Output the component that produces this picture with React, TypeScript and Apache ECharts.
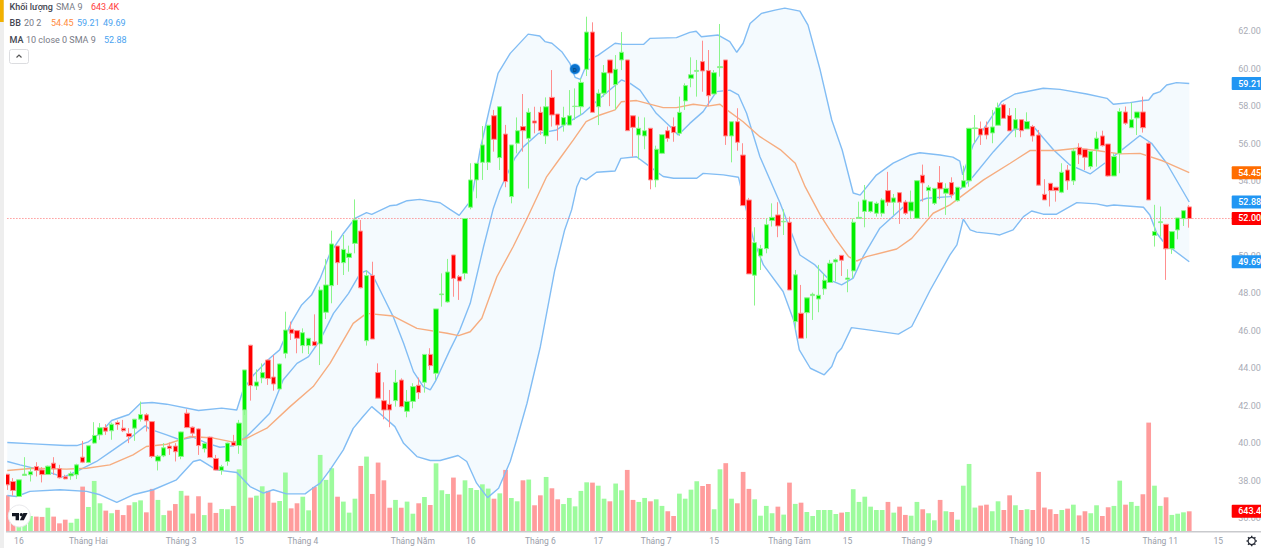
import React, { useEffect, useRef } from "react";
import * as echarts from "echarts";

// [open, close, low, high]
const candles = [
[38.34,37.77,37.5,38.34],[37.95,37.47,37.19,38.13],[37.15,38.04,37.15,38.04],[38.27,38.34,38.27,39.25],[38.31,38.47,37.95,38.72],
[38.75,38.54,38.22,38.98],[38.57,38.32,37.9,38.72],[38.32,38.77,38.3,38.8],[38.93,38.63,38.31,39.25],[38.63,38.15,38.11,38.84],
[38.2,38.09,38.07,38.31],[38.25,38.36,38.04,38.48],[38.31,38.84,38.08,38.9],[39.25,38.98,38.93,40.12],[38.97,39.86,38.93,39.86],
[40,40.41,39.96,41.12],[40.44,40.82,40.18,41.07],[40.83,40.64,40.44,41.01],[40.66,41.01,40.18,41.1],[41.1,40.99,40.71,41.21],
[40.8,40.66,40.59,41.24],[40.51,40.35,40,40.8],[40.8,41.28,40.12,41.28],[41.28,41.53,41.15,42.22],[41.51,41.19,40.62,41.6],
[41.15,39.29,39.2,41.15],[39.04,39.3,38.54,39.37],[39.32,39.75,39.25,40],[39.84,39.71,39.37,40.03],[39.84,39.54,39.02,40],
[39.29,40.6,39.14,40.62],[41.6,40.83,40.8,41.81],[40.85,40.53,40.27,40.89],[40.76,39.87,39.37,40.8],[39.7,39.98,39.5,40.03],
[40.32,39.23,39.2,40.35],[39.18,38.56,38.54,39.37],[38.54,38.74,38.31,38.84],[39.02,40,38.79,40.03],[40.05,39.87,39.82,40.44],
[39.87,41.07,39.43,41.24],[41.77,43.91,41.5,43.91],[45.23,43.07,42.27,45.25],[43.05,43.27,42.84,43.94],[43.48,43.77,43.2,44.26],
[44.44,43.45,43.11,44.48],[43.53,43.16,42.8,44.71],[42.89,44.23,42.87,44.25],[44.8,46.04,44.53,47.02],[46.08,45.87,45.51,46.49],
[46.01,45.6,44.8,46.04],[45.21,45.9,44.8,46.13],[45.21,45.6,44.76,45.6],[45.42,45.21,45.21,46.88],[45.3,48.18,44.17,48.36],
[46.99,48.45,46.63,49.84],[48.41,50.64,47.47,51.35],[50.53,49.64,48.45,50.53],[49.64,50.35,48.98,51.12],[49.92,50.14,49.16,50.55],
[50.67,51.92,50.14,53.02],[51.33,48.3,48.27,51.92],[45.47,48.95,45.21,49.25],[48.96,45.56,45.56,49.69],[43.77,42.4,42.4,44.26],
[42.27,41.77,41.27,43.25],[42.07,41.77,40.85,42.84],[42.27,43.25,41.95,43.91],[43.37,41.95,41.91,43.46],[41.7,42.23,41.38,42.84],
[42.23,43.02,41.86,43.2],[43.09,42.7,42.36,43.5],[43.25,44.74,42.7,44.74],[44.74,44.14,43.91,45.07],[43.73,47.17,43.37,47.17],
[47.93,47.97,47.29,49.07],[47.54,49.14,47.5,49.84],[50.05,48.8,47.82,50.05],[48.89,48.66,47.65,48.98],[49.07,52,48.75,52],
[52.6,54.06,52.49,54.95],[54.06,54.95,53.08,54.95],[55,55.93,54.06,56.94],[55,56.98,54.59,57],[57.49,56.23,55.57,57.8],
[55.25,57.97,54.59,57.97],[56.51,53.97,53.67,57],[53.17,55.93,52.81,55.93],[56.02,56.69,55.48,57.4],[56.91,56.69,55.57,58.65],
[56.28,57.67,53.6,57.89],[57.21,57.1,56.55,57.97],[57.67,56.69,56.46,57.97],[56.41,57.97,55.98,58.47],[58.47,57.53,56.91,59.93],
[57.58,56.99,56.16,57.58],[56.99,57.39,56.64,57.97],[56.99,57.49,56.99,58.86],[57.98,58,57.26,58.95],[57.97,59.27,57.53,59.49],
[59.97,61.96,59.61,62.78],[61.96,57.67,57.67,62.48],[57.97,58.69,56.99,58.9],[58.69,59.79,58.5,60.2],[60.47,59.77,58,60.47],
[59.15,59.97,57.8,60.73],[60.47,60.88,59.93,61.96],[60.47,56.69,56.69,60.47],[57.49,56.87,55.3,57.49],[56.46,56.82,55.16,57.44],
[56.41,56.69,55.7,57.4],[56.82,54.06,53.56,56.82],[54.06,55.7,53.67,55.89],[55.48,56.48,55.44,56.48],[56.69,56.28,56.1,56.91],
[56.91,56.59,56.1,57.4],[56.55,57.67,56.41,58.51],[58.28,59.1,57.8,59.22],[59.49,59.68,59.01,60.61],[59.86,59.91,58.51,60.47],
[60.38,59.88,58.77,61.5],[59.9,58.56,58,61],[58.65,59.79,58.65,59.93],[60.06,60.11,59.58,62.39],[60.47,56.41,55.93,60.47],
[56.41,57.17,55,57.17],[57.17,56.07,55.62,57.89],[55.39,52.69,52.69,56.02],[52.99,49.04,49.04,53.1],[48.97,50.71,47.35,51.53],
[50,50.39,49.25,50.59],[50.39,51.67,50.14,52.01],[51.89,52.06,51.57,52.81],[52.19,51.6,51,52.87],[51.82,51.85,51.12,52.49],
[51.8,48.18,48.18,52.1],[46.49,48.99,46.05,49.25],[46.94,45.6,45.6,48.45],[46.97,47.76,45.6,47.76],[47.88,47.95,46.58,48.04],
[47.7,47.9,46.99,49.52],[48.24,48.7,47.92,49.07],[48.58,49.61,48.58,49.79],[49.68,49.79,48.63,49.87],[50.03,49.77,48.93,50.03],
[48.75,48.82,48.06,49.29],[49.2,51.8,48.81,52],[52.01,52.06,52.01,52.9],[52.38,52.99,51.53,53.79],[52.38,52.9,52.31,52.9],
[52.28,52.81,52.1,52.9],[52.28,52.99,52.1,53.08],[53.49,52.87,52.67,54.49],[52.87,53.1,52.19,53.31],[53.38,52.87,51.71,53.38],
[52.88,52.28,52.19,52.99],[52.4,52.88,52,53.49],[52.01,54.02,52.01,54.02],[54.31,53.9,52.9,54.88],[53.49,53.67,52.1,53.79],
[52.81,53.61,52.72,53.61],[53.92,53.58,53.03,54.8],[53.35,53.61,52.19,53.88],[53.92,53.26,53.08,54.2],[52.95,53.67,52.9,53.67],
[53.67,54.02,53.67,54.82],[54.01,56.82,53.7,56.82],[56.8,56.84,56.02,57.53],[56.8,56.46,55.93,57.18],[56.87,56.46,56.23,57.18],
[56.57,56.89,56.02,57.8],[56.98,57.92,56.98,58.19],[58.08,57.35,57.35,58.15],[57.5,56.68,56.68,57.9],[56.78,57.28,56.34,57.9],
[57.28,56.69,56.34,57.28],[56.78,57.18,56.78,57.67],[56.91,56.41,56.11,57],[56.46,53.78,53.75,56.73],[53.29,52.99,52.99,54.1],
[53.88,53.49,52.64,53.88],[53.67,53.49,52.9,53.67],[53.4,54.47,53.35,54.95],[54.59,54.01,53.53,54.86],[54.01,55.61,53.79,55.75],
[55.8,55.4,54.91,56.02],[55.7,55.27,54.59,55.7],[54.77,55.59,54.63,55.59],[55.7,56.29,54.77,56.64],[56.41,55.89,55.84,56.69],
[55.98,54.27,54.24,55.98],[54.27,55.31,54.27,55.48],[55.48,57.71,54.42,57.89],[57.69,57.09,57,57.98],[56.85,57.28,56.85,58.19],
[57.37,57.69,56.46,57.69],[57.69,56.85,56.59,58.51],[56.02,52.99,52.99,56.07],[51.09,51.3,50.5,52.73],[51.78,51.82,51.03,52.64],
[51.69,50.38,48.72,51.69],[50.38,51.3,50.11,51.3],[51.39,52.03,50.89,52.03],[51.99,52.42,51.6,52.42],[52.62,52,51.51,52.71],
];

// thousands of shares
const volumes = [
1166,380,430,380,490,470,460,760,470,250,370,270,400,1450,785,1635,905,665,580,690,
520,840,940,1000,610,1375,1015,520,665,880,1310,1155,570,1135,520,925,590,720,710,820,
2015,3950,1090,1155,1460,1310,925,980,1910,740,905,1120,675,1440,2485,1670,2050,1120,960,600,
1055,2125,2430,1210,2235,1655,760,1015,760,960,565,905,1110,850,2210,1330,1210,1745,1190,1655,
1405,1340,1525,1385,1055,1230,1995,1080,970,1655,1680,840,1165,1765,1395,1035,880,1080,805,1310,
1590,1580,1480,1055,970,1550,1330,1995,1015,950,1080,970,1035,820,645,490,1220,1055,1350,1625,
1470,1535,710,2015,2215,1055,905,1930,1375,1035,500,820,580,795,535,1580,885,925,620,490,
685,685,685,555,600,620,1365,950,1120,795,685,685,950,600,795,525,500,950,710,580,
350,1015,645,620,370,1480,2190,765,830,860,645,970,685,1165,840,685,710,685,1930,765,
710,555,685,730,860,510,645,580,840,490,775,820,1645,860,950,820,1200,3540,1480,820,
1100,525,565,610,643.4,
];

const bbUpper = [
[0,40.03],[4.5,39.96],[10,39.87],[12,39.87],[14,40.07],[16,40.53],[18,41.21],[21,41.53],[23,42.13],[25,42.17],[27.5,42.08],[33,41.74],[37,41.87],[39.6,41.77],[40.7,42.84],[42.5,43.64],[45.3,44.53],[47,44.98],[49.1,46.49],[50.8,47.38],[52.5,47.91],[54,48.8],[55.7,50.14],[58,51.2],[60,52],[62,52.31],[62.9,52.22],[66,52.68],[67.2,52.72],[69,52.95],[71.2,53.02],[74.7,52.84],[76.4,52.49],[78,52.17],[79.6,52.81],[80.4,53.52],[81.6,55.66],[83.3,57.97],[84.7,59.75],[86.8,60.82],[89.9,61.85],[91.9,61.75],[92.8,61.45],[94,61.36],[95.7,60.91],[97.1,60.29],[98,59.54],[98.9,59.43],[100.3,60.47],[102,60.73],[104.9,61.36],[106.3,61.3],[109.8,61.3],[110.9,61.62],[115.5,61.66],[117.8,61.94],[118.9,62],[119.8,61.71],[122.7,61.8],[124.7,61.45],[125.9,60.88],[127,61.36],[128.2,62.42],[130.2,62.96],[132.5,63.13],[134.2,63.24],[136.8,63.08],[138.2,62.33],[140.3,59.93],[142.3,57.26],[144.1,55.66],[146,53.36],[147.2,53.25],[150,54.32],[152.9,54.96],[155.8,55.39],[157.5,55.51],[161,55.39],[163.2,55.28],[164.4,55.07],[164.9,54.33],[166.7,55.93],[170.5,57.71],[171.6,58.24],[173.9,58.65],[178.8,58.96],[181.7,58.9],[186.3,58.65],[189.8,58.42],[190.9,58.1],[193.8,58.19],[196.1,58.3],[197,58.33],[197.8,58.65],[199,58.78],[200.1,59.13],[201.8,59.26],[204,59.21],
];

const bbLower = [
[0,37.2],[1.6,37.15],[3.9,37.42],[9.1,37.51],[13.7,37.42],[16,37.24],[18.9,36.83],[21.7,37.24],[25.2,37.51],[29.2,38.04],[32.1,39.02],[33.3,39.11],[36.1,38.57],[39.6,38.43],[41.9,37.68],[44.2,37.33],[45.9,37.51],[48.2,37.29],[51.4,37.29],[53.1,37.68],[54,37.86],[55.7,38.57],[58,39.64],[59.7,40.79],[61.4,41.42],[62.9,41.95],[64.9,41.42],[66.9,40.88],[68.4,39.99],[70.7,39.28],[73,39.07],[74.7,39.07],[77.8,39.34],[79.3,39.02],[81,37.86],[82.9,37.09],[84.8,37.59],[86.8,39.02],[87.9,40.17],[89.7,42.13],[92,45.15],[94.5,49.25],[96.2,51.39],[97.4,52.46],[98.3,53.7],[99,54.18],[99.9,54.06],[101.7,54.47],[104.9,54.54],[105.9,55.21],[108.6,55.3],[110.9,54.77],[113.2,54.24],[115,54.15],[119,54.15],[120.1,54.41],[123.6,54.33],[126.2,54.2],[128.8,50.85],[130.5,49.52],[133.9,48.1],[135.7,46.58],[136.7,44.98],[138.6,44],[141,43.65],[142.3,44.09],[143.2,44.8],[144,45.07],[145.7,46.17],[148.6,46.05],[153.8,45.82],[156.1,46.23],[159.3,48.18],[162.7,50.06],[163.9,50.59],[165,51.96],[166.2,51.39],[167.3,51.27],[170.2,51.18],[171.3,51.12],[173.6,51.39],[175.4,52.1],[176.8,52.4],[178.8,52.23],[181.1,52.23],[184.6,52.85],[188,52.78],[189.8,52.67],[191,52.72],[196.1,52.6],[197.2,52.19],[198.4,51.21],[199.5,50.77],[200.9,50.41],[204,49.69],
];

const bbBasis = [
[0,38.54],[4.5,38.66],[10.2,38.61],[13.7,38.66],[17.7,38.84],[21.7,39.37],[24,39.82],[27.5,39.94],[31.5,40.35],[35.6,40.27],[39,40.05],[41.3,40.26],[44.8,40.8],[48.8,41.95],[52.8,43.02],[55.7,44.26],[59.7,46.4],[62,46.93],[66.6,46.79],[70.7,46.13],[75.9,45.87],[77.9,45.74],[79.9,45.95],[81.9,46.67],[84.5,48.89],[87.3,50.49],[89.7,52],[93.1,54.24],[95.4,55.22],[97.7,56.2],[99.9,57.17],[102.3,57.53],[104.9,57.8],[106,58.24],[108.6,58.3],[113.2,57.92],[115.5,57.92],[118.4,58.1],[120.9,58],[123,58.1],[124.2,57.8],[127,57.17],[129.9,56.37],[133.4,55.68],[136,54.95],[137.7,53.7],[140.3,52.19],[142.9,50.94],[145.2,49.96],[146.6,49.73],[148.3,49.96],[153.5,50.37],[156.1,50.94],[159.8,52.28],[162.7,52.73],[165,53.26],[168.5,54.06],[173.1,54.95],[176.5,55.63],[181.1,55.63],[184.6,55.75],[188,55.63],[192,55.45],[195.5,55.48],[199.5,55.07],[204,54.45],
];

const ma10 = [
[0,39.02],[2.2,38.84],[6.2,38.54],[9.7,38.18],[12.5,38.57],[15.4,39.02],[18.3,39.64],[21.2,40.27],[23.8,40.92],[24.6,40.75],[27.5,40.44],[29.8,40.18],[32.1,40.32],[34.4,40],[36.7,39.78],[39,39.86],[41.3,40.35],[45.3,41.59],[47.6,43.37],[50,44.26],[52,44.62],[54,45.51],[56.3,46.93],[58.9,48],[60.9,49.07],[62,49.21],[63.2,48.89],[64.9,47.82],[66.6,46.76],[68.4,45.33],[70.1,43.82],[71.8,43.02],[73,42.84],[74,43.37],[76.4,44.98],[78.1,46.04],[79.9,47.47],[82.2,50.49],[83.9,52.55],[85,53.52],[87.6,55.22],[89.1,55.84],[91.7,56.55],[94.8,56.73],[96.5,57.08],[99.4,57.62],[102.3,58.42],[106,59.4],[107.5,59.22],[109.2,58.86],[112,57.62],[114.4,56.91],[115.8,56.46],[117.8,57.08],[120.1,57.71],[122.4,58.78],[124.7,58.86],[126.2,58.6],[127.6,57.62],[129.9,55.3],[133.4,52.81],[136.8,50.05],[139.4,49.52],[141.9,48.72],[144,48.45],[146,48.81],[147.7,49.96],[150.6,51.48],[154.7,52.63],[158.7,53.08],[162.7,53.17],[165,53.7],[166.7,54.24],[170.2,55.57],[173.6,56.73],[177.1,56.91],[180.6,55.66],[183.4,54.86],[186.9,54.38],[189.4,54.95],[192,55.57],[195.5,56.43],[197.5,56.02],[200.1,54.95],[204,52.88],
];

const xTicks: [number, string][] = [
[2,"16"],[14,"Tháng Hai"],[30,"Tháng 3"],[40,"15"],[51,"Tháng 4"],[70,"Tháng Năm"],[80,"16"],[92,"Tháng 6"],[102,"17"],[112,"Tháng 7"],[122,"15"],[135,"Tháng Tám"],[145,"15"],[157,"Tháng 9"],[176,"Tháng 10"],[186,"15"],[199,"Tháng 11"],[209,"15"],
];

const lastClose = 52;
const priceTags: [number, string, string][] = [
[59.21,"59.21","#2196f3"],[54.45,"54.45","#ff6d00"],[52.88,"52.88","#2196f3"],[52,"52.00","#ff0000"],[49.69,"49.69","#2196f3"],
];
const volumeTags: [number, string, string][] = [[643.4,"643.4K","#ff0000"]];

const FONT = "Roboto, 'Liberation Sans', sans-serif";
const SLOTS = 212;
const GRID_LEFT = 4.4;
const GRID_W = 1228.3;
const xEnd = SLOTS - 0.5;

const legendRows = [
  { x: 9.5, y: 7, t: "Khối lượng", c: "#434651", w: 500 },
  { x: 56, y: 7, t: "SMA 9", c: "#787b86", w: 400 },
  { x: 91, y: 7, t: "643.4K", c: "#ff3b3b", w: 400 },
  { x: 9.5, y: 23, t: "BB", c: "#434651", w: 500 },
  { x: 24, y: 23, t: "20 2", c: "#787b86", w: 400 },
  { x: 51, y: 23, t: "54.45", c: "#ff8a3c", w: 400 },
  { x: 77, y: 23, t: "59.21", c: "#4aa3f0", w: 400 },
  { x: 103, y: 23, t: "49.69", c: "#4aa3f0", w: 400 },
  { x: 9.5, y: 40, t: "MA", c: "#434651", w: 500 },
  { x: 26, y: 40, t: "10 close 0 SMA 9", c: "#787b86", w: 400 },
  { x: 104, y: 40, t: "52.88", c: "#4aa3f0", w: 400 },
];

const gearTeeth = [0, 45, 90, 135, 180, 225, 270, 315];

function tagSeries(tags: [number, string, string][], xAxisIndex: number, yAxisIndex: number) {
  return {
    type: "custom",
    xAxisIndex,
    yAxisIndex,
    z: 9,
    silent: true,
    clip: false,
    data: tags.map((t) => [xEnd, t[0]]),
    renderItem: (p: any, api: any) => {
      const c = api.coord([api.value(0), api.value(1)]);
      const tag = tags[p.dataIndex];
      return {
        type: "group",
        children: [
          { type: "rect", shape: { x: c[0] - 1, y: c[1] - 6.5, width: 32, height: 13, r: 1 }, style: { fill: tag[2] } },
          { type: "text", x: c[0] + 5.5, y: c[1], style: { text: tag[1], fill: "#fff", fontSize: 9, fontWeight: 500, fontFamily: FONT, verticalAlign: "middle", align: "left" } },
        ],
      };
    },
  };
}

function lineSeries(data: number[][], color: string, z: number) {
  return {
    type: "line",
    xAxisIndex: 2,
    yAxisIndex: 0,
    data,
    symbol: "none",
    z,
    silent: true,
    lineStyle: { color, width: 1.4 },
  };
}

export default function App() {
  const ref = useRef<HTMLDivElement>(null);
  useEffect(() => {
    document.body.style.margin = "0";
    const chart = echarts.init(ref.current!, undefined, { renderer: "svg" });
    const labels = new Map(xTicks);
    const categories = Array.from({ length: SLOTS }, (_, i) => labels.get(i) ?? "");

    chart.setOption({
      animation: false,
      backgroundColor: "#ffffff",
      grid: [
        { left: GRID_LEFT, width: GRID_W, top: 0, height: 518, outerBoundsMode: "none" },
        { left: GRID_LEFT, width: GRID_W, top: 0, height: 531, outerBoundsMode: "none" },
      ],
      xAxis: [
        { type: "category", gridIndex: 0, data: categories, show: false },
        {
          type: "category",
          gridIndex: 1,
          data: categories,
          axisLine: { show: false },
          axisTick: { show: false },
          axisLabel: {
            interval: (i: number) => labels.has(i),
            color: "#9a9ea9",
            fontSize: 8.5,
            fontFamily: FONT,
            margin: 5.5,
            hideOverlap: false,
          },
          splitLine: { show: false },
        },
        { type: "value", gridIndex: 0, min: -0.5, max: xEnd, show: false },
        { type: "value", gridIndex: 1, min: -0.5, max: xEnd, show: false },
      ],
      yAxis: [
        {
          type: "value",
          gridIndex: 0,
          position: "right",
          min: 36,
          max: 63.672,
          interval: 2,
          axisLine: { show: false },
          axisTick: { show: false },
          splitLine: { show: false },
          axisLabel: {
            color: "#a9acb6",
            fontSize: 9,
            fontFamily: FONT,
            margin: 5.5,
            showMaxLabel: false,
            formatter: (v: number) => v.toFixed(2),
          },
        },
        { type: "value", gridIndex: 1, min: 0, max: 17342, show: false },
      ],
      series: [
        {
          type: "custom",
          xAxisIndex: 2,
          yAxisIndex: 0,
          z: 1,
          silent: true,
          data: [[0, 50]],
          renderItem: (_: any, api: any) => ({
            type: "polygon",
            shape: {
              points: [...bbUpper, ...[...bbLower].reverse()].map((p) => api.coord(p)),
            },
            style: { fill: "#2196f3", opacity: 0.05 },
          }),
        },
        {
          type: "bar",
          xAxisIndex: 1,
          yAxisIndex: 1,
          z: 2,
          silent: true,
          barWidth: 4.7,
          data: volumes.map((v, i) => ({
            value: v,
            itemStyle: { color: candles[i][1] < candles[i][0] ? "#ff9c9c" : "#9dfb9d" },
          })),
        },
        lineSeries(bbUpper, "#82bdf4", 3),
        lineSeries(bbLower, "#82bdf4", 3),
        lineSeries(ma10, "#82bdf4", 3),
        lineSeries(bbBasis, "#f6ad80", 3),
        {
          type: "line",
          xAxisIndex: 2,
          yAxisIndex: 0,
          z: 3,
          silent: true,
          symbol: "none",
          data: [[-0.5, lastClose], [xEnd, lastClose]],
          lineStyle: { color: "#ff6a6a", width: 1, type: [1, 2] },
        },
        {
          type: "candlestick",
          xAxisIndex: 0,
          yAxisIndex: 0,
          z: 5,
          silent: true,
          barWidth: 4.8,
          data: candles,
          itemStyle: {
            color: "#00ee00",
            color0: "#ff0000",
            borderColor: "#8cf58c",
            borderColor0: "#ff8f8f",
            borderWidth: 1,
          },
        },
        tagSeries(priceTags, 2, 0),
        tagSeries(volumeTags, 3, 1),
      ],
      graphic: [
        { type: "rect", z: 20, shape: { x: 0, y: 0, width: 4, height: 548 }, style: { fill: "#eeeeee" } },
        { type: "rect", z: 21, shape: { x: 0, y: 0, width: 3.7, height: 22 }, style: { fill: "#f2b100" } },
        { type: "rect", z: 20, shape: { x: 4, y: 0, width: 2, height: 548 }, style: { fill: "#ffffff" } },
        { type: "rect", z: 19, shape: { x: 6, y: 531, width: 1255, height: 1.5 }, style: { fill: "#c9cacd" } },
        ...legendRows.map((r) => ({
          type: "text",
          z: 22,
          x: r.x,
          y: r.y,
          style: { text: r.t, fill: r.c, fontSize: 9, fontWeight: r.w, fontFamily: FONT, verticalAlign: "middle" },
        })),
        { type: "rect", z: 22, shape: { x: 9.5, y: 49.5, width: 19, height: 14, r: 2 }, style: { fill: "#fff", stroke: "#dcdde0", lineWidth: 1 } },
        { type: "polyline", z: 23, shape: { points: [[16.5, 57.5], [19, 55], [21.5, 57.5]] }, style: { stroke: "#555", lineWidth: 1.2, fill: "none" } },
        { type: "circle", z: 22, shape: { cx: 575, cy: 69, r: 5 }, style: { fill: "#0b72cc", stroke: "rgba(33,150,243,0.35)", lineWidth: 1.5 } },
        { type: "text", z: 23, x: 575, y: 69, style: { text: "D", fill: "#0a4a86", fontSize: 6, fontWeight: 700, fontFamily: FONT, align: "center", verticalAlign: "middle" } },
        { type: "circle", z: 22, shape: { cx: 19.3, cy: 516, r: 11 }, style: { fill: "#ffffff", stroke: "#e9e9ec", lineWidth: 1 } },
        { type: "polygon", z: 23, shape: { points: [[12, 513], [19, 513], [19, 520.3], [15.6, 520.3], [15.6, 516.2], [12, 516.2]] }, style: { fill: "#131722" } },
        { type: "circle", z: 23, shape: { cx: 21.3, cy: 514.7, r: 1.6 }, style: { fill: "#131722" } },
        { type: "polygon", z: 23, shape: { points: [[27.5, 513], [23.8, 520.3], [19.8, 520.3], [23.4, 513]] }, style: { fill: "#131722" } },
        { type: "circle", z: 22, shape: { cx: 1251.7, cy: 541, r: 3.6 }, style: { fill: "none", stroke: "#2a2e39", lineWidth: 1.2 } },
        ...gearTeeth.map((a) => {
          const t = (a * Math.PI) / 180;
          return {
            type: "line",
            z: 22,
            shape: {
              x1: 1251.7 + 3.6 * Math.cos(t),
              y1: 541 + 3.6 * Math.sin(t),
              x2: 1251.7 + 5.2 * Math.cos(t),
              y2: 541 + 5.2 * Math.sin(t),
            },
            style: { stroke: "#2a2e39", lineWidth: 1.4 },
          };
        }),
      ],
    });
    return () => chart.dispose();
  }, []);
  return <div ref={ref} style={{ width: 1261, height: 548, display: "block" }} />;
}
